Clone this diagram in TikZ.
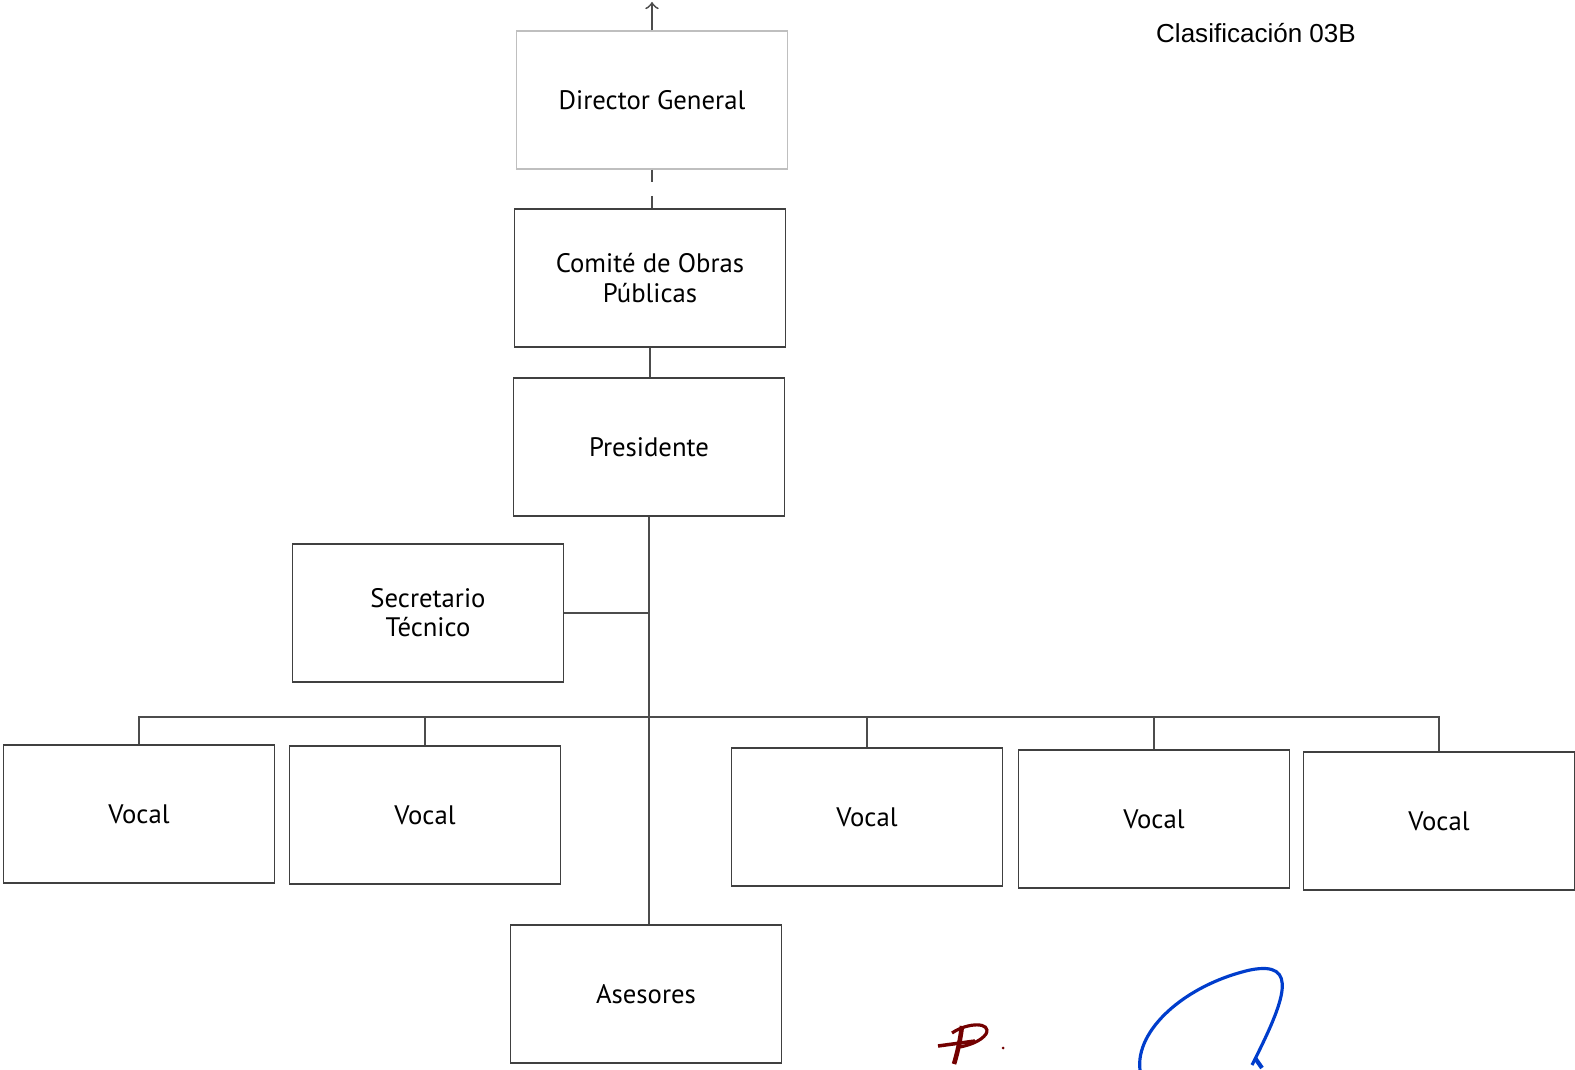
\documentclass[tikz,border=0pt]{standalone}
\usepackage{fontspec}
\setmainfont{PT Sans}
\newfontfamily\arialfont{Liberation Sans}
\begin{document}
\begin{tikzpicture}[x=0.01cm,y=-0.01cm,
  caja/.style={draw=black!75,line width=0.5pt,minimum width=2.71cm,minimum height=1.38cm,
    inner sep=0pt,align=center,font=\fontsize{7.6}{8.3}\selectfont},
  cajaclara/.style={caja,draw=black!25,line width=0.4pt},
  linea/.style={draw=black!70,line width=0.5pt}]
\useasboundingbox (0,0) rectangle (1575,1070);
\node[cajaclara] (dir) at (652,100) {Director General};
\node[caja] (com) at (650,278) {Comité de Obras\\Públicas};
\node[caja] (pres) at (649,447) {Presidente};
\node[caja] (sec) at (428,613) {Secretario\\Técnico};
\node[caja] (v1) at (139,814) {Vocal};
\node[caja] (v2) at (425,815) {Vocal};
\node[caja] (v3) at (867,817) {Vocal};
\node[caja] (v4) at (1154,819) {Vocal};
\node[caja] (v5) at (1439,821) {Vocal};
\node[caja] (ases) at (646,994) {Asesores};
\node[font=\arialfont\fontsize{7.4}{9}\selectfont] (clasif) at (1256,33) {Clasificación 03B};
\coordinate (arriba) at (652,2);
\coordinate (bus) at (649,717);
\draw[linea,->] (dir.north) -- (arriba);
\draw[linea,dash pattern=on 0.12cm off 0.14cm] (dir.south) -- (dir.south|-com.north);
\draw[linea] (com.south) -- (com.south|-pres.north);
\draw[linea] (pres.south) -- (pres.south|-ases.north);
\draw[linea] (sec.east) -- (sec.east-|pres.south);
\draw[linea] (v1.north) |- (v5.north|-bus) -- (v5.north);
\draw[linea] (v2.north) -- (v2.north|-bus);
\draw[linea] (v3.north) -- (v3.north|-bus);
\draw[linea] (v4.north) -- (v4.north|-bus);
\draw[red!45!black,line width=1pt] (938,1046) -- (975,1041);
\draw[red!45!black,line width=1.3pt] (962,1026) .. controls (960,1042) and (957,1054) .. (954,1064);
\draw[red!45!black,line width=0.9pt] (952,1033) .. controls (968,1022) and (992,1022) .. (986,1034) .. controls (981,1041) and (970,1045) .. (960,1047);
\fill[red!45!black] (1003,1048) circle (1.5);
\draw[blue!70!cyan!80!black,line width=0.9pt] (1140,1070) .. controls (1135,1030) and (1185,985) .. (1250,970) .. controls (1300,960) and (1285,1000) .. (1252,1065);
\draw[blue!70!cyan!80!black,line width=1.2pt] (1255,1058) -- (1262,1068);
\end{tikzpicture}
\end{document}
